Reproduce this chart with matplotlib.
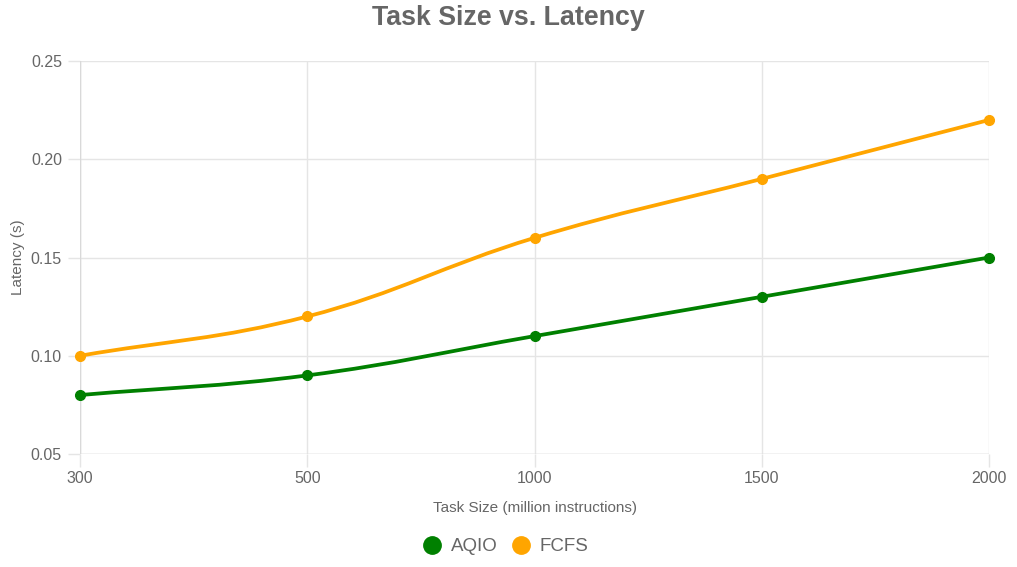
import numpy as np
import matplotlib

matplotlib.use("Agg")
import matplotlib.pyplot as plt
from matplotlib.path import Path
from matplotlib.patches import PathPatch
from matplotlib.lines import Line2D

plt.rcParams["font.family"] = ["Liberation Sans", "DejaVu Sans"]

# data
task_sizes = ["300", "500", "1000", "1500", "2000"]
aqio_latency = [0.08, 0.09, 0.11, 0.13, 0.15]
fcfs_latency = [0.10, 0.12, 0.16, 0.19, 0.22]
series_names = ["AQIO", "FCFS"]
series_colors = ["#008000", "#FFA500"]

TEXT = "#666666"
GRID = "#e5e5e5"


def spline_path(ax, xs, ys, tension=0.4):
    # Chart.js-style bezier control points, computed in pixel space
    pts = ax.transData.transform(np.column_stack([xs, ys]))
    n = len(pts)
    verts = [pts[0]]
    codes = [Path.MOVETO]
    cps = []
    for i in range(n):
        prev = pts[i - 1] if i > 0 else pts[i]
        cur = pts[i]
        nxt = pts[i + 1] if i < n - 1 else pts[i]
        d01 = np.hypot(*(cur - prev))
        d12 = np.hypot(*(nxt - cur))
        tot = d01 + d12
        s01 = d01 / tot if tot else 0
        s12 = d12 / tot if tot else 0
        cp_prev = cur - tension * s01 * (nxt - prev)
        cp_next = cur + tension * s12 * (nxt - prev)
        cps.append((cp_prev, cp_next))
    for i in range(1, n):
        verts += [cps[i - 1][1], cps[i][0], pts[i]]
        codes += [Path.CURVE4] * 3
    verts = ax.transData.inverted().transform(np.array(verts))
    return Path(verts, codes)


fig = plt.figure(figsize=(10.17, 5.67), dpi=100)
ax = fig.add_axes([0.0787, 0.1993, 0.8938, 0.6931])

x = np.arange(len(task_sizes))
ax.set_xlim(0, len(task_sizes) - 1)
ax.set_ylim(0.05, 0.25)
ax.set_xticks(x)
ax.set_xticklabels(task_sizes)
ax.set_yticks([0.05, 0.10, 0.15, 0.20, 0.25])
ax.set_yticklabels(["0.05", "0.10", "0.15", "0.20", "0.25"])

ax.grid(True, color=GRID, linewidth=1)
ax.set_axisbelow(True)
for s in ax.spines.values():
    s.set_visible(False)
ax.tick_params(axis="both", colors=GRID, labelcolor=TEXT, labelsize=11.5, length=9, width=1)
ax.tick_params(axis="x", pad=3)
ax.tick_params(axis="y", pad=4)
ax.axvline(0, color="#d9d9d9", lw=1, zorder=1)
ax.axhline(0.05, color="#d9d9d9", lw=1, zorder=1)

for ys, color in zip([aqio_latency, fcfs_latency], series_colors):
    path = spline_path(ax, x, ys)
    ax.add_patch(PathPatch(path, facecolor="none", edgecolor=color, lw=2.7,
                           capstyle="round", joinstyle="round", zorder=3, clip_on=False))
    ax.plot(x, ys, "o", color=color, markersize=7, zorder=4, clip_on=False)

ax.set_xlabel("Task Size (million instructions)", color=TEXT, fontsize=11, labelpad=11)
ax.set_ylabel("Latency (s)", color=TEXT, fontsize=11, labelpad=4)
fig.text(0.5, 1 - 18 / 567, "Task Size vs. Latency", ha="center", va="center",
         fontsize=19.3, fontweight="bold", color=TEXT)

handles = [Line2D([], [], marker="o", ls="none", color=c, markersize=12.5) for c in series_colors]
fig.legend(handles, series_names, loc="center", bbox_to_anchor=(0.497, 0.036), ncol=2,
           frameon=False, fontsize=13.5, labelcolor=TEXT, handletextpad=0.5,
           columnspacing=0.75, handlelength=1.0)

fig.savefig("out.png", dpi=100)
